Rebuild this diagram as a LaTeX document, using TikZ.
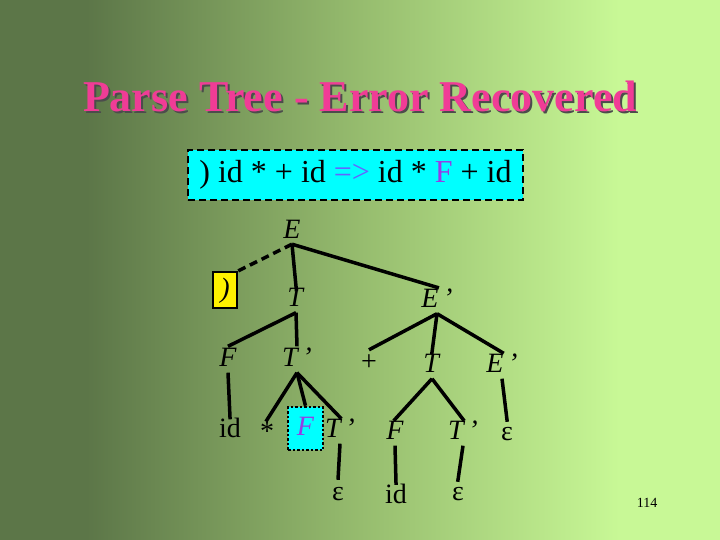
\documentclass[tikz,border=0pt]{standalone}
\usepackage{fontspec}
\setmainfont{Liberation Serif}
\definecolor{bgA}{RGB}{92,118,72}
\definecolor{bgB}{RGB}{150,188,110}
\definecolor{bgC}{RGB}{200,248,150}
\definecolor{titlepink}{RGB}{240,60,150}
\definecolor{arrowblue}{RGB}{100,100,255}
\definecolor{fpurple}{RGB}{150,60,230}
\definecolor{boxcyan}{RGB}{0,255,255}
\pgfdeclarehorizontalshading{slidebg}{100bp}{color(0bp)=(bgA); color(31bp)=(bgA); color(50bp)=(bgB); color(68bp)=(bgC); color(100bp)=(bgC)}

\begin{document}
\begin{tikzpicture}[x=1pt,y=-1pt]
  \tikzstyle{sym} = [inner sep=0pt, minimum height=26pt, text height=20pt, text depth=6pt, font=\fontsize{28}{28}\selectfont]
  \tikzstyle{branch} = [line width=3.5pt, shorten >=-2pt]
  \useasboundingbox (0,0) rectangle (720,540);
  \shade[shading=slidebg] (0,0) rectangle (720,540);
  % title with shadow
  \node[gray!60!black, font=\fontsize{44}{44}\selectfont\bfseries] at (362,98) {Parse Tree - Error Recovered};
  \node[titlepink, font=\fontsize{44}{44}\selectfont\bfseries] (title) at (360,96) {Parse Tree - Error Recovered};
  % input line
  \node[draw, dash pattern=on 7pt off 4pt, line width=2.5pt, fill=boxcyan, minimum width=335pt, minimum height=50pt, font=\fontsize{32}{32}\selectfont] (input) at (355.5,175)
    {) id * + id \textcolor{arrowblue}{=>} id * \textcolor{fpurple}{F} + id};
  % tree
  \node[sym] (E) at (292,231) {\textit{E}};
  \node[sym, draw, fill=yellow, line width=2pt, minimum width=24pt, minimum height=36pt] (rp) at (225,290) {\textit{)}};
  \node[sym] (T1) at (296,299.5) {\textit{T}};
  \node[sym] (Ep1) at (437,300.5) {\textit{E\,’}};
  \node[sym] (F1) at (228,359.5) {\textit{F}};
  \node[sym] (Tp1) at (297,359.5) {\textit{T\,’}};
  \node[sym] (plus) at (369,363) {+};
  \node[sym] (T2) at (432,365.5) {\textit{T}};
  \node[sym] (Ep2) at (502,365.5) {\textit{E\,’}};
  \node[sym] (id1) at (230,430.5) {id};
  \node[sym] (star) at (267,433) {*};
  \node[sym, draw, dotted, fill=boxcyan, line width=2.5pt, minimum width=35pt, minimum height=43pt] (F2) at (305.5,428.5) {\textcolor{fpurple}{\textit{F}}};
  \node[sym] (Tp2) at (340,430.5) {\textit{T\,’}};
  \node[sym] (F3) at (395,432.5) {\textit{F}};
  \node[sym] (Tp3) at (463,432.5) {\textit{T\,’}};
  \node[sym] (eps1) at (507,433) {ε};
  \node[sym] (eps2) at (338,493) {ε};
  \node[sym] (id2) at (396,496) {id};
  \node[sym] (eps3) at (458,493) {ε};
  \node[font=\fontsize{14}{14}\selectfont] (num) at (647,503) {114};
  % branches
  \draw[branch, dash pattern=on 8pt off 5pt] (E.south) -- (rp.north east);
  \draw[branch, shorten >=-5pt] (E.south) -- (T1.north);
  \draw[branch] (E.south) -- (Ep1.north);
  \draw[branch, shorten >=0pt] (T1.south) -- (F1.north);
  \draw[branch, shorten >=0pt] (T1.south) -- (Tp1.north);
  \draw[branch, shorten >=0pt] (Ep1.south) -- (plus.north);
  \draw[branch] (Ep1.south) -- (T2.north);
  \draw[branch] (Ep1.south) -- (Ep2.north);
  \draw[branch] (F1.south) -- (id1.north);
  \draw[branch] (Tp1.south) -- (star.north);
  \draw[branch, shorten >=0pt] (Tp1.south) -- (F2.north);
  \draw[branch] (Tp1.south) -- (Tp2.north);
  \draw[branch] (T2.south) -- (F3.north);
  \draw[branch] (T2.south) -- (Tp3.north);
  \draw[branch] (Ep2.south) -- (eps1.north);
  \draw[branch, shorten >=0pt] (Tp2.south) -- (eps2.north);
  \draw[branch] (F3.south) -- (id2.north);
  \draw[branch] (Tp3.south) -- (eps3.north);
\end{tikzpicture}
\end{document}
